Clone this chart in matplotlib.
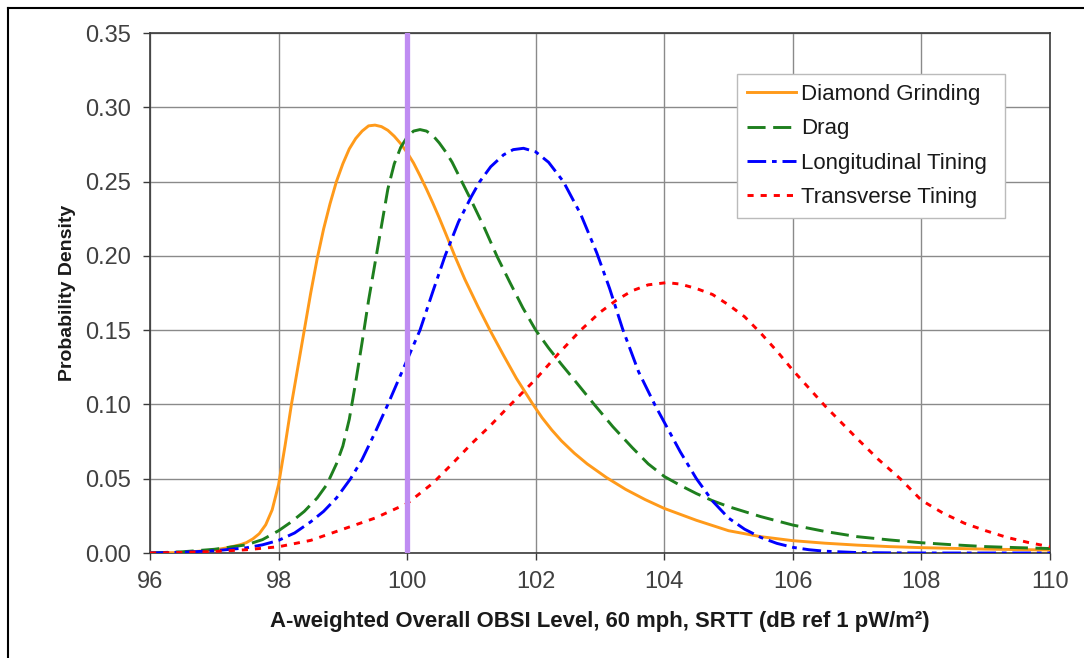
import matplotlib
matplotlib.use("Agg")
import matplotlib.pyplot as plt
from matplotlib.lines import Line2D

# ---------------- data ----------------
dg_x = [96.0, 96.5, 97.0, 97.2, 97.4, 97.5, 97.6, 97.7, 97.8, 97.9, 98.0, 98.1, 98.2, 98.3,
        98.4, 98.5, 98.6, 98.7, 98.8, 98.9, 99.0, 99.1, 99.2, 99.3, 99.4, 99.5, 99.6, 99.7,
        99.8, 99.9, 100.0, 100.1, 100.2, 100.3, 100.4, 100.5, 100.6, 100.75, 100.9, 101.1,
        101.3, 101.5, 101.7, 101.95, 102.1, 102.25, 102.4, 102.6, 102.8, 103.1, 103.4, 103.7,
        104.0, 104.5, 105.0, 105.5, 106.0, 106.5, 107.0, 107.5, 108.0, 109.0, 110.0]
dg_y = [0.0000, 0.0003, 0.0020, 0.0035, 0.0055, 0.0070, 0.0095, 0.0130, 0.0190, 0.0290,
        0.0460, 0.0720, 0.1000, 0.1250, 0.1500, 0.1750, 0.1980, 0.2180, 0.2350, 0.2500,
        0.2620, 0.2720, 0.2790, 0.2840, 0.2875, 0.2880, 0.2870, 0.2845, 0.2805, 0.2755,
        0.2695, 0.2625, 0.2540, 0.2450, 0.2355, 0.2255, 0.2150, 0.1990, 0.1840, 0.1660,
        0.1490, 0.1330, 0.1175, 0.1005, 0.0910, 0.0828, 0.0755, 0.0672, 0.0600, 0.0508,
        0.0428, 0.0360, 0.0300, 0.0220, 0.0150, 0.0110, 0.0083, 0.0066, 0.0053, 0.0043,
        0.0036, 0.0026, 0.0020]

drag_x = [96.0, 96.5, 97.0, 97.5, 97.75, 98.0, 98.2, 98.4, 98.6, 98.75, 98.9, 99.0, 99.1,
          99.2, 99.3, 99.4, 99.5, 99.6, 99.7, 99.8, 99.9, 100.0, 100.1, 100.2, 100.3, 100.4,
          100.5, 100.6, 100.7, 100.85, 101.0, 101.2, 101.4, 101.6, 101.8, 102.0, 102.2,
          102.4, 102.6, 102.9, 103.2, 103.5, 103.75, 104.0, 104.25, 104.5, 104.75, 105.0,
          105.5, 106.0, 106.5, 107.0, 107.5, 108.0, 108.5, 109.0, 109.5, 110.0]
drag_y = [0.0000, 0.0008, 0.0025, 0.0055, 0.0090, 0.0150, 0.0210, 0.0280, 0.0370, 0.0460,
          0.0600, 0.0720, 0.0900, 0.1150, 0.1420, 0.1700, 0.1950, 0.2200, 0.2450, 0.2620,
          0.2730, 0.2800, 0.2840, 0.2850, 0.2840, 0.2810, 0.2760, 0.2700, 0.2630, 0.2500,
          0.2370, 0.2190, 0.1995, 0.1820, 0.1650, 0.1500, 0.1380, 0.1270, 0.1165, 0.1005,
          0.0850, 0.0710, 0.0600, 0.0515, 0.0455, 0.0400, 0.0352, 0.0312, 0.0245, 0.0188,
          0.0145, 0.0110, 0.0088, 0.0069, 0.0055, 0.0043, 0.0036, 0.0030]

lt_x = [96.0, 96.5, 97.0, 97.5, 97.75, 98.0, 98.25, 98.5, 98.7, 98.9, 99.12, 99.3, 99.5,
        99.7, 99.85, 100.0, 100.2, 100.4, 100.59, 100.8, 101.0, 101.13, 101.3, 101.5,
        101.65, 101.81, 102.0, 102.2, 102.43, 102.7, 102.95, 103.15, 103.35, 103.6, 103.85,
        104.0, 104.25, 104.5, 104.75, 105.0, 105.25, 105.5, 105.75, 106.0, 106.25, 106.5,
        107.0, 107.5, 108.0, 110.0]
lt_y = [0.0000, 0.0005, 0.0015, 0.0035, 0.0055, 0.0085, 0.0135, 0.0210, 0.0280, 0.0370,
        0.0500, 0.0630, 0.0810, 0.1000, 0.1150, 0.1300, 0.1500, 0.1760, 0.2000, 0.2230,
        0.2400, 0.2500, 0.2600, 0.2680, 0.2715, 0.2724, 0.2700, 0.2630, 0.2500, 0.2280,
        0.2020, 0.1780, 0.1510, 0.1220, 0.1000, 0.0880, 0.0680, 0.0500, 0.0350, 0.0235,
        0.0160, 0.0105, 0.0065, 0.0038, 0.0022, 0.0012, 0.0003, 0.0001, 0.0000, 0.0000]

tt_x = [96.0, 96.5, 97.0, 97.5, 98.0, 98.5, 99.0, 99.5, 100.0, 100.4, 100.7, 101.0, 101.3,
        101.6, 102.0, 102.35, 102.7, 103.0, 103.25, 103.5, 103.75, 104.04, 104.25, 104.5,
        104.75, 105.0, 105.25, 105.5, 105.75, 106.0, 106.25, 106.5, 106.75, 107.0, 107.33,
        107.67, 108.0, 108.33, 108.67, 109.0, 109.33, 109.67, 110.0]
tt_y = [0.0000, 0.0004, 0.0010, 0.0022, 0.0042, 0.0085, 0.0160, 0.0235, 0.0333, 0.0470,
        0.0600, 0.0735, 0.0860, 0.0995, 0.1170, 0.1340, 0.1500, 0.1620, 0.1700, 0.1765,
        0.1805, 0.1820, 0.1810, 0.1780, 0.1740, 0.1670, 0.1590, 0.1480, 0.1360, 0.1230,
        0.1110, 0.0990, 0.0880, 0.0770, 0.0630, 0.0500, 0.0355, 0.0270, 0.0200, 0.0150,
        0.0105, 0.0070, 0.0042]

series_labels = ["Diamond Grinding", "Drag", "Longitudinal Tining", "Transverse Tining"]
reference_level = 100.0

x_ticks = [96, 98, 100, 102, 104, 106, 108, 110]
y_ticks = [0.00, 0.05, 0.10, 0.15, 0.20, 0.25, 0.30, 0.35]
x_label = "A-weighted Overall OBSI Level, 60 mph, SRTT (dB ref 1 pW/m\u00b2)"
y_label = "Probability Density"

# ---------------- figure ----------------
plt.rcParams['font.family'] = ['Liberation Sans', 'DejaVu Sans']
fig = plt.figure(figsize=(10.84, 6.58), dpi=100)
ax = fig.add_axes([150 / 1084, 1 - 553 / 658, 900 / 1084, 520 / 658])

lw = 2.1
ax.plot(dg_x, dg_y, color='#FF9A1A', lw=lw, label=series_labels[0], zorder=3)
ax.plot(drag_x, drag_y, color='#1E7F1E', lw=lw, dashes=(6.2, 2.6), label=series_labels[1], zorder=3)
ax.plot(lt_x, lt_y, color='#0000FF', lw=lw, dashes=(6.4, 2.0, 1.6, 2.0), label=series_labels[2], zorder=3)
ax.plot(tt_x, tt_y, color='#FF0000', lw=lw, dashes=(2.1, 2.4), label=series_labels[3], zorder=3)

ax.axvline(reference_level, color='#BF8CF2', lw=3.8, zorder=4)

ax.set_xlim(x_ticks[0], x_ticks[-1])
ax.set_ylim(y_ticks[0], y_ticks[-1])
ax.set_xticks(x_ticks)
ax.set_yticks(y_ticks)
ax.set_xticklabels([str(t) for t in x_ticks])
ax.set_yticklabels([f"{t:.2f}" for t in y_ticks])

ax.grid(True, color='#8a8a8a', lw=1.0, zorder=0)
ax.set_axisbelow(True)
for s in ax.spines.values():
    s.set_color('#3a3a3a')
    s.set_linewidth(1.2)
ax.tick_params(axis='both', direction='out', length=5, width=1.0, color='#3a3a3a',
               labelsize=17, labelcolor='#404040')
ax.tick_params(axis='y', pad=9)
ax.tick_params(axis='x', pad=8)

ax.set_xlabel(x_label, fontsize=15.9, fontweight='bold', color='#1a1a1a', labelpad=13)
ax.set_ylabel(y_label, fontsize=14, fontweight='bold', color='#1a1a1a', labelpad=6)

leg = ax.legend(loc='upper left', bbox_to_anchor=(0.652, 0.658, 0.298, 0.263), mode='expand',
                borderaxespad=0, fontsize=16, handlelength=2.2, handletextpad=0.25,
                labelspacing=0.6, borderpad=0.45, fancybox=False, framealpha=1,
                edgecolor='#bbbbbb')
leg.get_frame().set_linewidth(1.0)
for t in leg.get_texts():
    t.set_color('#1a1a1a')

# outer frame lines (top and left edges as in the reference)
fig.add_artist(Line2D([8 / 1084, 1.0], [1 - 8 / 658, 1 - 8 / 658], transform=fig.transFigure,
                      color='black', lw=1.5))
fig.add_artist(Line2D([8 / 1084, 8 / 1084], [0.0, 1 - 8 / 658], transform=fig.transFigure,
                      color='black', lw=1.5))

fig.savefig("out.png", dpi=100)
